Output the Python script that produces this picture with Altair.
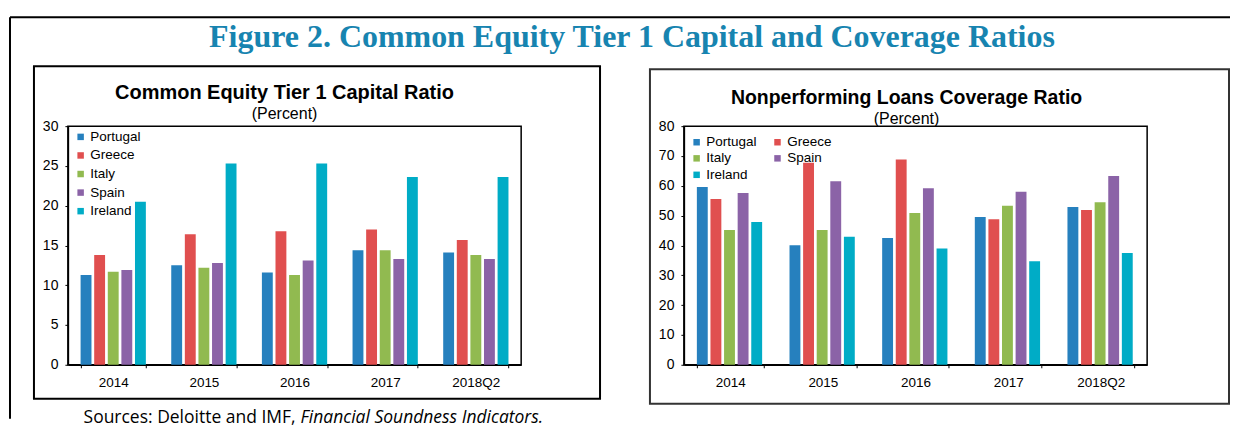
import altair as alt
import pandas as pd

years = ["2014", "2015", "2016", "2017", "2018Q2"]
countries = ["Portugal", "Greece", "Italy", "Spain", "Ireland"]
colors = ["#2680be", "#e04f4f", "#91ba50", "#8b63a7", "#00acc6"]

# Common Equity Tier 1 capital ratio (percent)
cet1_portugal = [11.3, 12.5, 11.6, 14.4, 14.1]
cet1_greece = [13.8, 16.4, 16.8, 17.0, 15.7]
cet1_italy = [11.7, 12.2, 11.3, 14.4, 13.8]
cet1_spain = [11.9, 12.8, 13.1, 13.3, 13.3]
cet1_ireland = [20.5, 25.3, 25.3, 23.6, 23.6]

# Nonperforming loans coverage ratio (percent)
npl_portugal = [59.6, 40.1, 42.5, 49.5, 52.9]
npl_greece = [55.6, 67.7, 68.8, 48.8, 51.9]
npl_italy = [45.2, 45.2, 50.9, 53.3, 54.5]
npl_spain = [57.6, 61.5, 59.2, 58.0, 63.3]
npl_ireland = [47.9, 42.9, 39.0, 34.7, 37.5]

y1_ticks = [0, 5, 10, 15, 20, 25, 30]
y2_ticks = [0, 10, 20, 30, 40, 50, 60, 70, 80]

FONT = "Liberation Sans"


def long_df(series):
    rows = []
    for c, vals in zip(countries, series):
        for yr, v in zip(years, vals):
            rows.append({"year": yr, "country": c, "value": v})
    return pd.DataFrame(rows)


cet1_df = long_df([cet1_portugal, cet1_greece, cet1_italy, cet1_spain, cet1_ireland])
npl_df = long_df([npl_portugal, npl_greece, npl_italy, npl_spain, npl_ireland])
deco = alt.Chart(pd.DataFrame({"d": [0]}))


def bars(df, ticks, cols, leg_y, row_pad, direction):
    return alt.Chart(df).mark_bar().encode(
        x=alt.X("year:N", sort=years, title=None,
                scale=alt.Scale(paddingInner=0.28, paddingOuter=0.14),
                axis=alt.Axis(labelAngle=0, tickBand="extent", tickSize=3, labelPadding=8,
                              labelFont=FONT, labelFontSize=13.5, labelColor="black",
                              domainColor="black", tickColor="black", domainWidth=1.5)),
        xOffset=alt.XOffset("country:N", sort=countries, scale=alt.Scale(paddingInner=0.2)),
        y=alt.Y("value:Q", title=None,
                scale=alt.Scale(domain=[ticks[0], ticks[-1]], nice=False),
                axis=alt.Axis(values=ticks, grid=False, tickSize=3, labelPadding=7,
                              labelFont=FONT, labelFontSize=14, labelColor="black",
                              domainColor="black", tickColor="black", domainWidth=1.5)),
        color=alt.Color("country:N", sort=countries,
                        scale=alt.Scale(domain=countries, range=colors),
                        legend=alt.Legend(orient="none", legendX=6, legendY=leg_y, title=None,
                                          columns=cols, direction=direction, symbolType="square",
                                          symbolSize=42, symbolStrokeWidth=0, labelFont=FONT,
                                          labelFontSize=13.5, labelColor="black",
                                          rowPadding=row_pad, columnPadding=14,
                                          labelOffset=3, padding=0)),
    )


def txt(text, x, y, size, weight="normal", font=FONT, color="black", align="center", style="normal"):
    return deco.mark_text(text=text, font=font, fontSize=size, fontWeight=weight, color=color,
                          align=align, baseline="middle", fontStyle=style).encode(
        x=alt.value(x), y=alt.value(y))


def box(x, x2, y, y2, color="black"):
    return deco.mark_rect(filled=False, stroke=color, strokeWidth=2).encode(
        x=alt.value(x), x2=alt.value(x2), y=alt.value(y), y2=alt.value(y2))


W1, W2, H = 454, 464, 239

left = alt.layer(
    bars(cet1_df, y1_ticks, 1, 4, 3.6, "vertical"),
    box(-34, 533, -60, 273),
    deco.mark_rule(stroke="black", strokeWidth=2).encode(
        x=alt.value(-58), x2=alt.value(1164), y=alt.value(-109)),
    deco.mark_rule(stroke="black", strokeWidth=2).encode(
        x=alt.value(-58), y=alt.value(-109), y2=alt.value(293)),
    txt("Figure 2. Common Equity Tier 1 Capital and Coverage Ratios", 565, -89, 32,
        weight="bold", font="Liberation Serif", color="#1784b0"),
    txt("Common Equity Tier 1 Capital Ratio", 217, -33, 20, weight="bold"),
    txt("(Percent)", 217, -12, 16),
    txt("Sources: Deloitte and IMF,", 228, 292, 17.5, font="Open Sans", align="right"),
    txt("Financial Soundness Indicators.", 233, 292, 17.5, font="Open Sans", align="left",
        style="italic"),
).properties(width=W1, height=H)

right = alt.layer(
    bars(npl_df, y2_ticks, 2, 9, 1.5, "horizontal"),
    box(-34, 546, -57, 278, color="#333333"),
    txt("Nonperforming Loans Coverage Ratio", 223, -28, 19.5, weight="bold"),
    txt("(Percent)", 223, -7, 16),
).properties(width=W2, height=H)

chart = alt.hconcat(left, right, spacing=163, bounds="flush").resolve_scale(
    x="independent", y="independent", color="independent"
).resolve_legend(color="independent").properties(
    padding={"left": 0, "top": 7, "right": 0, "bottom": 0}
).configure_view(stroke="black", strokeWidth=1.5)

chart.save("out.html", embed_options={"renderer": "svg", "actions": False})
